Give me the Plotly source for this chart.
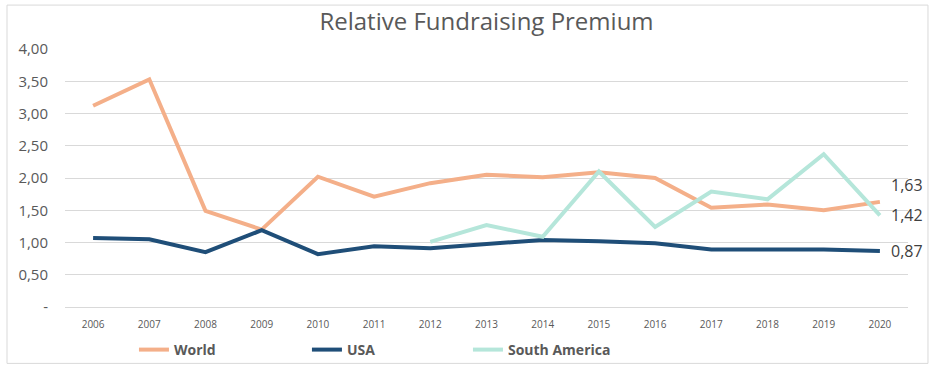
import plotly.graph_objects as go

years = [str(y) for y in range(2006, 2021)]
world = [3.12, 3.53, 1.49, 1.20, 2.02, 1.71, 1.92, 2.05, 2.01, 2.09, 2.00, 1.54, 1.59, 1.50, 1.63]
usa = [1.07, 1.05, 0.85, 1.19, 0.82, 0.94, 0.91, 0.98, 1.04, 1.02, 0.99, 0.89, 0.89, 0.89, 0.87]
south_america = [None, None, None, None, None, None, 1.01, 1.27, 1.09, 2.10, 1.24, 1.79, 1.67, 2.37, 1.42]
y_tickvals = [0, 0.5, 1, 1.5, 2, 2.5, 3, 3.5, 4]
y_ticktext = ["-", "0,50", "1,00", "1,50", "2,00", "2,50", "3,00", "3,50", "4,00"]

colors = {"World": "#F4AF89", "USA": "#1F4E78", "South America": "#B5E6DA"}
series = [("World", world), ("USA", usa), ("South America", south_america)]
legend_ids = ["legend", "legend2", "legend3"]
legend_x = [0.0818, 0.2870, 0.4780]

fig = go.Figure()
for (name, vals), lid in zip(series, legend_ids):
    fig.add_trace(go.Scatter(x=years, y=vals, name=name, mode="lines",
                             line=dict(color=colors[name], width=4),
                             connectgaps=False, legend=lid))

def fmt(v):
    return f"{v:.2f}".replace(".", ",")

label_shift = {"World": 17, "USA": 0, "South America": 0}
last_idx = len(years) - 1
for name, vals in series:
    fig.add_annotation(x=last_idx, y=vals[-1], text=fmt(vals[-1]), showarrow=False,
                       xanchor="left", yanchor="middle", xshift=9, yshift=label_shift[name],
                       font=dict(size=16, color="#404040", family="Open Sans"))

fig.add_shape(type="rect", xref="paper", yref="paper",
              x0=-0.0688, x1=1.0237, y0=-0.2186, y1=1.1702,
              line=dict(color="#D9D9D9", width=1), fillcolor="rgba(0,0,0,0)", layer="below")

legend_common = dict(orientation="h", yref="container", y=1 - 350 / 372,
                     xanchor="left", yanchor="middle",
                     bgcolor="rgba(0,0,0,0)", itemwidth=30,
                     font=dict(size=14, color="#595959", family="Open Sans", weight="bold"))

fig.update_layout(
    width=936, height=372,
    margin=dict(l=65, r=28, t=49, b=64.5, autoexpand=False),
    paper_bgcolor="white", plot_bgcolor="white",
    font=dict(family="Open Sans", color="#595959"),
    title=dict(text="Relative Fundraising Premium", xref="paper", x=0.5, xanchor="center",
               y=1 - 22 / 372, yanchor="middle",
               font=dict(size=24, color="#595959", family="Open Sans")),
    xaxis=dict(type="category", range=[-0.5, len(years) - 0.5], autorange=False,
               showgrid=False, zeroline=False, showline=True, linecolor="#D9D9D9", linewidth=1,
               ticks="", ticklabelstandoff=8, automargin=False,
               tickfont=dict(size=10, color="#595959")),
    yaxis=dict(range=[0, 4], autorange=False, tickvals=y_tickvals, ticktext=y_ticktext,
               showgrid=True, gridcolor="#D9D9D9", gridwidth=1, zeroline=False,
               showline=False, ticks="", ticklabelstandoff=16, automargin=False,
               tickfont=dict(size=15, color="#595959")),
    legend=dict(x=legend_x[0], **legend_common),
    legend2=dict(x=legend_x[1], **legend_common),
    legend3=dict(x=legend_x[2], **legend_common),
    showlegend=True,
)

fig.write_html("out.html", config={"displayModeBar": False},
               post_script="document.body.style.margin='0';")
